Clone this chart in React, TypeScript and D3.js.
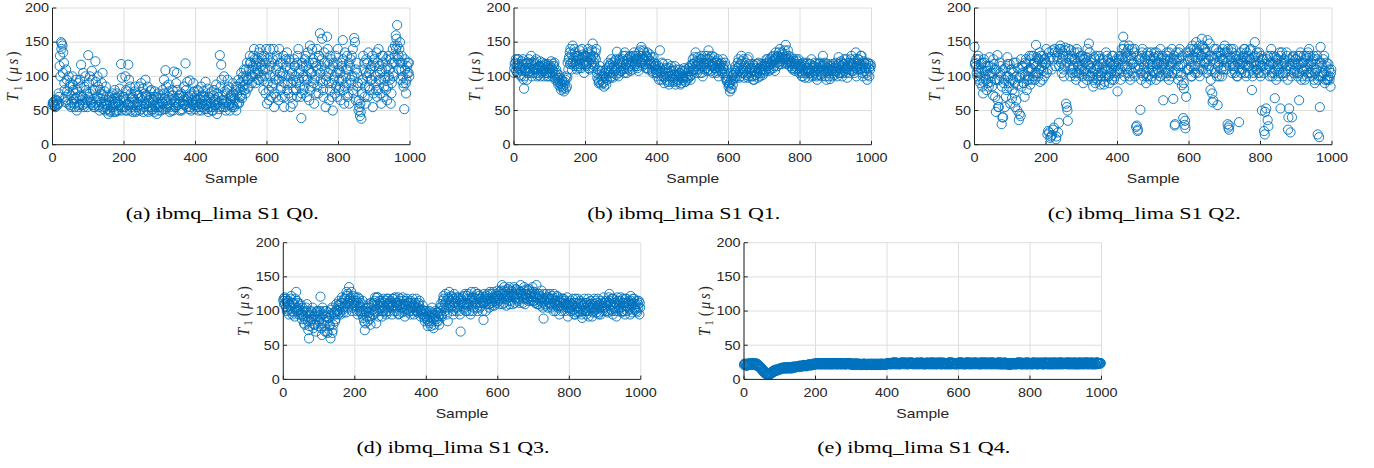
import React from "react";
import * as d3 from "d3";

// Sample indices: set A = 0,4,8,...; set B = 2,6,10,...; set C = 1,5,9,...
const SAMPLES_A: number[] = d3.range(0, 1000, 4);
const SAMPLES_B: number[] = d3.range(2, 1000, 4);
const SAMPLES_C: number[] = d3.range(1, 1000, 4);

// T1 (µs) values
const q0A: number[] = [
  58,62,55,65,60,115,150,145,120,70,95,60,85,55,100,65,75,50,90,60,117,70,55,100,65,
  131,75,60,95,55,122,70,85,50,75,105,60,50,70,45,62,55,75,48,60,68,50,82,118,55,
  70,100,50,117,62,75,48,66,85,55,72,50,90,65,55,95,70,48,62,80,52,70,58,45,75,
  60,50,80,95,109,55,70,48,65,80,107,55,105,68,50,75,60,85,119,55,70,94,50,65,78,
  58,72,50,66,85,55,70,92,60,48,75,62,55,80,65,45,70,131,117,60,100,55,75,85,50,
  65,90,55,80,60,95,70,105,85,110,75,120,95,130,100,115,140,90,125,105,140,115,95,130,75,
  60,110,140,70,125,55,95,130,65,105,85,120,55,100,135,75,110,90,60,125,100,70,140,85,39,
  115,95,130,70,110,145,85,120,60,100,140,75,163,115,90,135,55,158,105,80,125,50,95,130,70,
  110,85,120,153,60,100,130,75,115,90,140,156,65,105,50,42,38,95,120,60,100,135,80,115,55,
  125,90,70,140,105,60,120,85,110,65,130,95,75,140,120,160,175,130,150,110,100,52,90,115,105,
];
const q0B: number[] = [
  60,56,64,58,70,100,148,135,80,110,65,75,90,62,80,55,95,70,58,85,65,105,60,80,55,
  90,65,108,58,80,62,100,55,68,90,52,78,60,52,70,48,65,58,80,50,62,72,55,98,65,
  55,80,60,95,50,68,58,78,50,62,85,58,70,48,75,60,85,55,70,50,65,78,55,68,50,
  72,62,52,68,85,60,78,55,72,50,65,90,58,72,62,52,70,58,80,65,52,72,60,90,52,
  65,80,55,70,60,78,52,65,82,55,68,50,72,58,88,60,52,85,65,55,78,62,95,60,72,
  55,75,65,50,85,62,80,68,95,88,100,82,110,120,90,130,105,120,95,135,100,125,80,110,140,
  90,65,115,85,140,100,70,115,140,80,100,130,70,115,90,125,55,105,80,115,90,130,105,70,120,
  80,125,100,135,65,105,140,90,120,75,110,130,95,155,70,120,100,140,65,110,90,120,75,105,140,
  95,65,115,80,135,90,110,60,125,100,75,150,120,90,55,48,75,110,85,125,70,105,95,130,75,
  100,135,80,115,95,130,70,100,125,85,110,60,120,100,145,155,125,140,95,120,85,110,95,120,100,
];
const q0C: number[] = [
  62,58,66,60,75,130,140,105,90,62,78,100,58,72,88,60,68,80,55,95,72,58,85,62,75,
  70,100,62,80,55,92,65,58,80,62,72,55,85,58,65,50,72,55,68,48,75,58,65,50,70,
  62,50,78,58,85,55,70,62,48,75,58,68,52,82,60,72,50,65,78,55,62,48,70,60,55,
  55,68,60,75,52,65,88,58,50,72,62,55,80,60,72,50,65,58,70,92,62,55,75,58,68,
  62,55,78,60,50,72,65,58,52,70,60,78,50,66,58,75,62,55,95,72,65,50,80,58,68,
  72,58,68,85,75,60,90,72,100,80,110,95,85,120,110,100,125,115,110,95,120,130,110,100,120,
  125,80,100,120,90,75,110,125,95,120,70,105,90,125,80,100,120,70,95,115,80,120,95,110,75,
  100,85,115,95,120,80,105,125,95,115,85,130,105,125,80,110,95,120,90,130,70,115,100,85,120,
  80,105,95,125,85,110,70,120,95,130,80,100,110,85,65,60,90,130,70,105,120,85,110,95,120,
  115,80,120,95,75,110,130,95,80,115,100,125,90,105,130,140,145,110,120,130,90,125,75,105,120,
];
const q1A: number[] = [
  105,120,115,125,110,100,118,82,112,95,120,108,130,115,105,118,110,102,115,108,120,100,112,105,118,
  110,122,100,115,95,105,88,98,80,92,78,95,85,110,135,120,145,115,130,110,125,138,112,128,105,
  130,118,140,110,125,148,120,135,105,95,115,88,100,85,110,95,120,105,125,98,115,110,136,100,118,
  108,125,112,130,105,120,115,128,110,135,118,125,108,130,143,115,135,122,128,110,132,118,105,120,110,
  100,115,138,95,108,90,112,100,105,92,115,98,108,88,102,95,110,90,100,112,92,105,98,115,102,
  125,110,135,105,120,115,130,100,118,125,108,138,115,122,105,128,112,120,100,115,108,125,110,98,92,
  85,78,95,88,105,115,100,125,108,130,112,98,120,105,128,110,100,118,95,112,105,120,100,110,102,
  115,108,120,112,125,118,130,115,135,120,128,140,118,132,125,146,120,130,115,128,110,122,118,112,125,
  108,118,100,115,105,120,98,110,125,102,115,108,95,112,120,105,130,110,100,118,108,96,115,105,112,
  120,100,128,110,115,105,125,112,98,120,110,130,115,105,135,118,125,110,130,100,120,112,95,118,110,
];
const q1B: number[] = [
  118,108,125,112,102,122,96,110,118,105,125,112,100,120,110,125,105,115,100,112,108,118,105,115,100,
  115,105,118,98,110,92,102,85,95,82,88,100,120,128,140,110,125,135,118,130,112,125,140,118,130,
  115,135,120,128,138,112,128,140,110,92,100,108,90,100,88,105,115,98,112,105,122,102,118,125,108,
  120,110,135,118,112,128,108,122,130,115,125,112,135,120,125,138,118,130,112,125,118,108,128,115,105,
  110,95,105,120,100,110,95,118,88,108,100,92,115,100,95,105,88,108,98,92,110,100,108,95,118,
  110,120,115,128,110,125,105,120,130,112,125,118,108,130,115,120,105,125,112,118,105,115,120,95,100,
  90,82,100,95,110,105,120,98,118,105,125,108,112,98,118,105,112,100,108,118,98,112,108,115,105,
  110,125,115,120,110,128,122,108,125,130,118,125,135,120,128,118,138,125,120,112,118,108,125,115,105,
  115,105,120,98,112,108,118,105,100,115,120,100,110,118,102,115,108,120,95,105,115,110,100,118,108,
  108,118,105,122,100,118,108,125,115,105,125,108,120,112,100,125,115,130,105,122,112,105,120,100,115,
];
const q1C: number[] = [
  112,125,105,118,115,108,125,100,108,120,112,105,118,110,122,112,100,115,122,105,115,110,118,100,112,
  105,112,108,120,102,98,95,90,88,85,92,82,98,125,118,132,120,140,122,115,130,118,125,132,120,
  122,128,112,132,118,130,115,125,98,90,108,95,92,105,98,112,108,118,100,120,108,125,112,105,122,
  115,130,105,118,125,110,130,118,120,125,130,115,122,138,120,128,125,112,135,118,122,128,112,115,118,
  105,108,112,100,118,98,105,92,112,100,108,95,102,110,92,100,105,98,95,108,100,95,112,100,108,
  118,128,110,122,118,105,125,115,110,120,130,110,128,115,118,112,122,108,118,110,120,112,105,115,95,
  88,92,82,102,98,108,112,115,100,122,105,115,102,125,100,112,108,95,115,102,118,110,105,118,110,
  118,115,125,108,118,122,112,125,128,115,135,122,128,125,138,130,125,120,122,118,125,115,110,122,118,
  112,100,110,108,118,112,105,118,108,112,105,118,102,108,115,100,118,115,108,112,100,118,108,112,102,
  115,112,118,105,120,112,118,105,110,115,120,118,108,125,115,110,120,118,112,115,108,118,102,112,118,
];
const q2A: number[] = [
  143,115,100,125,90,110,75,120,95,108,85,115,100,72,110,48,131,55,105,30,40,95,70,128,85,
  60,110,95,75,120,50,36,100,85,115,70,125,95,110,88,130,100,120,146,105,125,92,115,130,100,
  120,15,135,10,110,22,140,8,125,32,145,105,130,115,60,50,140,100,125,110,135,95,120,105,130,
  115,90,125,105,140,148,100,120,85,110,130,95,115,88,105,125,92,135,110,100,120,95,130,105,115,
  78,125,110,140,158,100,135,115,145,95,125,105,140,26,20,115,51,130,100,120,90,135,110,125,100,
  115,135,95,120,105,140,110,65,125,100,130,95,115,140,67,28,120,105,135,115,87,39,29,70,125,
  110,140,100,130,115,150,105,135,120,155,110,140,125,153,115,80,130,65,110,140,58,120,135,100,125,
  145,110,30,22,130,105,140,115,125,100,33,135,110,120,140,100,130,115,125,80,105,150,120,110,135,
  100,50,125,15,53,36,115,130,105,120,68,95,125,110,53,135,100,120,115,95,53,18,40,130,110,
  125,100,65,135,110,120,95,130,105,140,115,100,125,90,110,15,11,143,105,125,90,115,95,110,85,
];
const q2B: number[] = [
  120,105,130,95,118,85,125,100,80,115,128,92,105,118,70,95,55,120,100,40,90,112,80,100,118,
  95,80,120,55,100,88,45,125,105,90,120,80,100,130,112,95,118,105,128,100,135,110,95,125,118,
  105,20,125,12,138,25,115,130,18,140,120,135,100,142,55,130,115,138,105,125,100,140,115,128,110,
  130,108,120,95,118,135,112,100,128,90,115,105,125,100,118,88,110,130,100,120,105,115,95,122,108,
  120,105,130,115,145,125,110,140,100,130,118,135,112,28,110,125,95,140,115,105,130,100,118,135,108,
  128,105,118,130,100,125,115,120,105,135,110,125,100,120,130,110,125,95,140,105,118,82,24,110,130,
  125,100,145,110,128,140,115,100,130,145,120,135,105,125,148,110,62,140,120,100,135,125,110,140,115,
  125,135,25,115,140,120,110,130,100,125,118,105,128,140,115,125,105,138,120,100,128,115,135,105,120,
  130,115,20,110,125,27,100,140,118,105,128,115,100,135,120,105,125,110,130,40,115,100,128,108,125,
  105,118,130,95,120,110,125,100,118,130,105,122,95,118,130,100,55,120,100,130,108,95,118,100,110,
];
const q2C: number[] = [
  118,125,110,105,100,120,92,108,115,90,100,105,85,125,95,110,65,95,115,85,110,55,100,118,90,
  110,68,105,90,65,112,98,42,115,90,100,118,108,95,125,110,130,95,115,125,110,130,120,108,125,
  140,110,18,128,14,125,135,12,135,115,140,125,110,138,120,35,125,110,130,115,125,105,135,110,125,
  100,125,110,128,100,115,125,105,95,125,110,100,130,95,110,120,100,115,125,90,110,130,118,100,125,
  110,130,95,125,140,115,130,105,125,110,140,120,100,130,22,125,105,135,110,125,100,120,130,95,118,
  105,125,135,110,120,100,130,118,110,125,105,135,120,105,125,30,135,115,125,100,130,90,35,135,110,
  135,115,125,140,105,135,125,145,110,130,140,120,135,110,130,95,75,125,105,130,115,100,130,125,110,
  135,120,140,28,125,135,115,105,130,120,110,125,120,130,105,135,115,125,140,110,120,130,110,128,105,
  115,125,105,48,118,130,110,120,100,130,110,125,118,105,130,115,120,105,135,22,125,110,118,105,120,
  115,130,105,120,100,130,115,110,135,105,120,110,130,105,125,95,120,100,115,105,95,120,100,95,105,
];
const q3A: number[] = [
  115,120,105,112,95,118,100,110,92,128,105,95,110,88,100,80,105,92,60,85,98,75,95,70,100,
  85,121,65,95,78,100,68,90,60,105,80,95,110,100,115,95,120,105,112,98,125,135,110,100,122,
  108,115,95,118,105,100,90,72,105,85,98,80,110,95,115,82,120,100,112,92,118,105,95,110,100,
  115,95,108,120,100,112,96,118,105,110,92,115,102,108,95,112,100,105,118,98,108,92,102,95,85,
  100,78,92,85,105,75,95,88,98,80,110,92,122,100,115,85,128,105,120,95,112,100,118,108,70,
  115,105,125,100,118,110,95,120,105,128,112,100,122,108,115,87,120,110,125,105,118,112,128,115,122,
  130,110,125,138,118,130,108,122,135,115,128,120,112,132,125,118,138,122,130,110,125,118,132,115,128,
  120,112,138,118,125,108,120,89,115,125,105,118,110,122,100,115,108,120,95,112,105,118,100,110,92,
  108,115,100,112,95,105,118,98,110,90,102,112,95,108,100,115,92,105,110,98,118,105,95,112,120,
  105,115,98,125,110,100,118,105,92,115,108,120,100,112,95,118,105,110,122,98,112,105,100,110,95,
];
const q3B: number[] = [
  110,118,100,115,108,122,95,112,105,115,100,108,95,105,82,98,110,72,95,88,105,80,92,100,78,
  100,75,105,85,92,70,98,80,102,72,95,88,100,108,98,112,102,118,108,122,112,118,128,105,115,
  120,100,112,108,98,115,85,100,92,110,88,105,95,112,100,120,92,108,115,100,112,98,118,105,112,
  105,118,100,112,108,95,115,105,120,100,110,118,98,112,105,118,95,110,100,112,102,98,108,90,100,
  88,95,82,98,90,80,100,85,92,105,95,115,105,125,95,118,108,122,100,125,115,105,120,95,112,
  120,110,100,122,108,118,128,100,115,110,125,118,105,120,112,125,100,118,110,128,115,120,108,125,118,
  115,128,120,110,135,122,125,115,120,130,110,125,132,120,115,128,125,112,135,120,118,130,122,125,115,
  128,120,110,125,115,130,105,118,110,120,112,125,105,118,112,100,122,108,115,100,118,110,108,120,105,
  100,110,118,95,112,105,100,115,95,108,118,100,112,92,110,105,98,118,102,112,95,110,105,100,112,
  112,100,120,108,118,95,112,100,120,105,115,98,118,108,112,100,115,95,108,118,102,110,98,115,105,
];
const q3C: number[] = [
  118,110,115,102,110,105,112,98,118,100,112,102,98,95,92,88,100,85,78,100,88,92,80,98,88,
  92,95,82,100,70,92,85,78,95,68,98,85,102,95,110,105,112,98,118,128,105,115,120,112,108,
  112,108,120,100,112,95,100,82,98,105,92,112,102,108,120,98,110,115,105,100,108,115,100,118,108,
  110,108,118,105,112,120,108,110,98,115,108,102,112,100,115,105,108,112,100,105,115,100,95,100,92,
  92,85,100,78,95,88,92,98,85,95,100,108,118,110,105,120,112,115,108,118,105,120,110,100,118,
  108,122,112,110,125,100,115,112,120,118,105,125,112,118,100,112,115,122,118,110,125,108,118,120,112,
  122,118,130,125,112,128,118,132,110,125,122,135,118,125,130,112,128,120,118,125,132,115,125,120,135,
  115,125,120,110,122,118,112,125,108,118,120,112,118,108,125,110,115,105,112,118,108,115,112,105,110,
  112,105,108,102,118,98,112,105,112,100,110,105,100,118,105,110,108,100,115,105,108,98,115,108,105,
  100,108,112,115,102,118,105,112,110,100,112,105,112,100,118,108,112,102,115,110,118,102,115,105,112,
];
const q4A: number[] = [
  21,23,20,22,24,21,23,22,24,20,19,17,15,12,10,8,7,9,8,10,12,13,14,13,15,
  16,15,17,16,17,18,16,17,18,17,18,19,18,19,18,20,19,20,21,20,21,22,21,23,22,
  23,22,24,23,22,24,23,22,24,23,22,23,24,22,23,24,22,23,24,22,23,22,24,23,22,
  23,21,22,24,22,21,23,22,21,23,22,21,22,23,21,22,21,23,22,21,22,23,22,21,23,
  22,24,23,22,24,23,25,22,24,23,25,24,22,24,23,25,24,23,22,24,23,25,24,22,24,
  23,24,22,25,23,24,22,23,25,24,22,23,24,23,25,22,24,23,24,22,25,23,24,22,23,
  24,22,25,23,24,22,23,25,24,23,22,24,25,23,24,22,24,23,25,24,22,23,24,25,23,
  24,23,22,24,23,25,22,24,23,22,24,21,23,22,24,23,22,24,23,25,22,24,23,22,24,
  23,24,22,25,23,24,22,23,25,24,22,23,24,22,25,23,24,23,22,24,25,23,22,24,23,
  24,22,23,25,24,22,23,24,22,25,23,24,22,23,24,25,22,24,23,22,24,23,25,23,24,
];
const q4B: number[] = [
  22,20,23,21,22,24,22,23,21,22,20,18,16,14,11,9,8,7,9,11,11,14,13,15,14,
  15,17,16,18,16,17,18,17,16,19,17,18,19,20,19,19,21,20,19,21,22,20,22,21,23,
  22,24,23,22,23,24,22,24,23,22,24,22,23,24,22,23,24,22,24,23,22,24,23,22,24,
  22,23,21,22,23,22,21,22,23,22,21,23,22,22,21,23,22,21,22,23,21,22,23,22,22,
  23,24,22,24,23,25,23,24,22,24,23,24,25,23,22,24,25,23,24,22,24,23,24,25,23,
  24,22,24,23,24,25,23,22,24,23,25,24,22,24,23,24,23,22,24,25,23,24,22,23,24,
  23,25,23,24,22,24,25,23,22,24,23,25,23,24,22,23,25,24,22,23,24,25,23,22,24,
  23,24,25,22,24,22,23,25,22,23,21,22,24,23,22,24,25,23,22,24,23,22,24,25,23,
  24,22,23,24,22,25,23,24,22,23,24,25,23,24,22,24,22,25,24,23,22,24,25,23,24,
  23,25,24,22,23,24,25,22,23,24,22,23,25,24,23,22,24,23,25,24,22,25,24,23,24,
];
const q4C: number[] = [
  23,22,21,23,22,22,24,21,22,23,21,19,17,13,12,10,8,8,7,9,10,12,12,14,14,
  16,16,17,17,16,18,17,16,17,18,18,18,19,19,20,20,20,21,20,20,22,21,21,22,22,
  24,23,22,24,23,22,24,23,22,24,23,22,24,23,24,22,23,24,22,24,23,22,23,24,23,
  22,22,23,21,22,23,22,21,22,23,21,22,22,21,23,22,21,22,23,22,21,23,22,22,21,
  24,23,24,23,25,22,24,24,23,22,24,25,23,24,22,24,23,25,24,23,24,22,23,24,25,
  22,24,23,24,22,23,25,24,23,22,24,23,25,22,24,24,22,23,25,24,22,23,24,23,22,
  25,23,24,22,23,25,24,22,23,25,24,23,22,24,23,25,22,23,24,25,23,24,22,23,25,
  22,24,23,25,22,24,23,22,24,23,22,24,22,24,23,22,23,25,24,22,24,23,25,22,24,
  22,23,25,23,24,22,24,23,24,22,25,24,22,23,24,22,25,23,24,22,23,25,24,22,23,
  25,23,22,24,23,25,22,23,24,22,25,24,23,22,25,23,24,25,22,23,24,22,23,24,23,
];

const X_TICKS: number[] = [0, 200, 400, 600, 800, 1000];
const Y_TICKS: number[] = [0, 50, 100, 150, 200];
const CAPTIONS: string[] = [
  "(a) ibmq_lima S1 Q0.",
  "(b) ibmq_lima S1 Q1.",
  "(c) ibmq_lima S1 Q2.",
  "(d) ibmq_lima S1 Q3.",
  "(e) ibmq_lima S1 Q4.",
];
const SERIES: number[][][] = [
  [q0A, q0B, q0C],
  [q1A, q1B, q1C],
  [q2A, q2B, q2C],
  [q3A, q3B, q3C],
  [q4A, q4B, q4C],
];
const SAMPLE_SETS: number[][] = [SAMPLES_A, SAMPLES_B, SAMPLES_C];

// layout
const LAYOUT = [
  { left: 52.5, top: 8 },
  { left: 514, top: 8 },
  { left: 974.5, top: 8 },
  { left: 283.3, top: 242.7 },
  { left: 744, top: 242.7 },
];
const W = 357.5;
const H = 136.7;
const SX = 1.2;
const BLUE = "#0072BD";
const AXIS = "#262626";
const GRID = "#dedede";
const SANS = "'Liberation Sans', Arial, Helvetica, sans-serif";
const SERIF = "'Liberation Serif', 'Times New Roman', serif";

function Panel({ sets, caption, left, top }: { sets: number[][]; caption: string; left: number; top: number }) {
  const x = d3.scaleLinear().domain([0, 1000]).range([0, W]);
  const y = d3.scaleLinear().domain([0, 200]).range([H, 0]);
  const tickLen = 3.8;
  const pts: { s: number; v: number }[] = [];
  sets.forEach((vals, k) => {
    vals.forEach((v, i) => {
      const s = SAMPLE_SETS[k][i];
      if (s !== undefined) pts.push({ s, v });
    });
  });
  pts.sort((p, q) => p.s - q.s);
  return (
    <g transform={`translate(${left},${top})`}>
      {X_TICKS.map((t) => (
        <line key={"gx" + t} x1={x(t)} x2={x(t)} y1={0} y2={H} stroke={GRID} strokeWidth={1} />
      ))}
      {Y_TICKS.map((t) => (
        <line key={"gy" + t} x1={0} x2={W} y1={y(t)} y2={y(t)} stroke={GRID} strokeWidth={1} />
      ))}
      {pts.map((p, i) => (
        <circle key={i} cx={x(p.s)} cy={y(p.v)} r={4.6} fill="none" stroke={BLUE} strokeWidth={0.9} />
      ))}
      <line x1={0} x2={W} y1={H} y2={H} stroke={AXIS} strokeWidth={1} />
      <line x1={0} x2={0} y1={0} y2={H} stroke={AXIS} strokeWidth={1} />
      {X_TICKS.map((t) => (
        <g key={"tx" + t}>
          <line x1={x(t)} x2={x(t)} y1={H} y2={H - tickLen} stroke={AXIS} strokeWidth={1} />
          <text
            transform={`translate(${x(t)},${H + 17.5}) scale(${SX},1)`}
            textAnchor="middle"
            fontFamily={SANS}
            fontSize={12}
            fill={AXIS}
          >
            {t}
          </text>
        </g>
      ))}
      {Y_TICKS.map((t) => (
        <g key={"ty" + t}>
          <line x1={0} x2={tickLen} y1={y(t)} y2={y(t)} stroke={AXIS} strokeWidth={1} />
          <text
            transform={`translate(-3.5,${y(t) + 4.3}) scale(${SX},1)`}
            textAnchor="end"
            fontFamily={SANS}
            fontSize={12}
            fill={AXIS}
          >
            {t}
          </text>
        </g>
      ))}
      <text
        transform={`translate(${W / 2},${H + 38.5}) scale(${SX},1)`}
        textAnchor="middle"
        fontFamily={SANS}
        fontSize={13}
        fill={AXIS}
      >
        Sample
      </text>
      <text
        transform={`translate(${-34.5},${H / 2}) scale(${SX},1) rotate(-90)`}
        textAnchor="middle"
        fontFamily={SERIF}
        fontSize={14.5}
        fill={AXIS}
        textLength={50}
        lengthAdjust="spacing"
      >
        <tspan fontStyle="italic">T</tspan>
        <tspan fontSize={10} dy={3}>1</tspan>
        <tspan dy={-3} dx={1.5}>(</tspan>
        <tspan fontStyle="italic">μs</tspan>
        <tspan>)</tspan>
      </text>
      <text
        x={W / 2 - 9}
        y={H + 74}
        textAnchor="middle"
        fontFamily={SERIF}
        fontSize={17}
        fill="#000"
        textLength={193}
        lengthAdjust="spacingAndGlyphs"
      >
        {caption}
      </text>
    </g>
  );
}

export default function App() {
  return (
    <svg
      width={1374}
      height={468}
      viewBox="0 0 1374 468"
      style={{ position: "absolute", left: 0, top: 0, background: "#fff" }}
    >
      <rect x={0} y={0} width={1374} height={468} fill="#fff" />
      {SERIES.map((sets, i) => (
        <Panel key={i} sets={sets} caption={CAPTIONS[i]} left={LAYOUT[i].left} top={LAYOUT[i].top} />
      ))}
    </svg>
  );
}
